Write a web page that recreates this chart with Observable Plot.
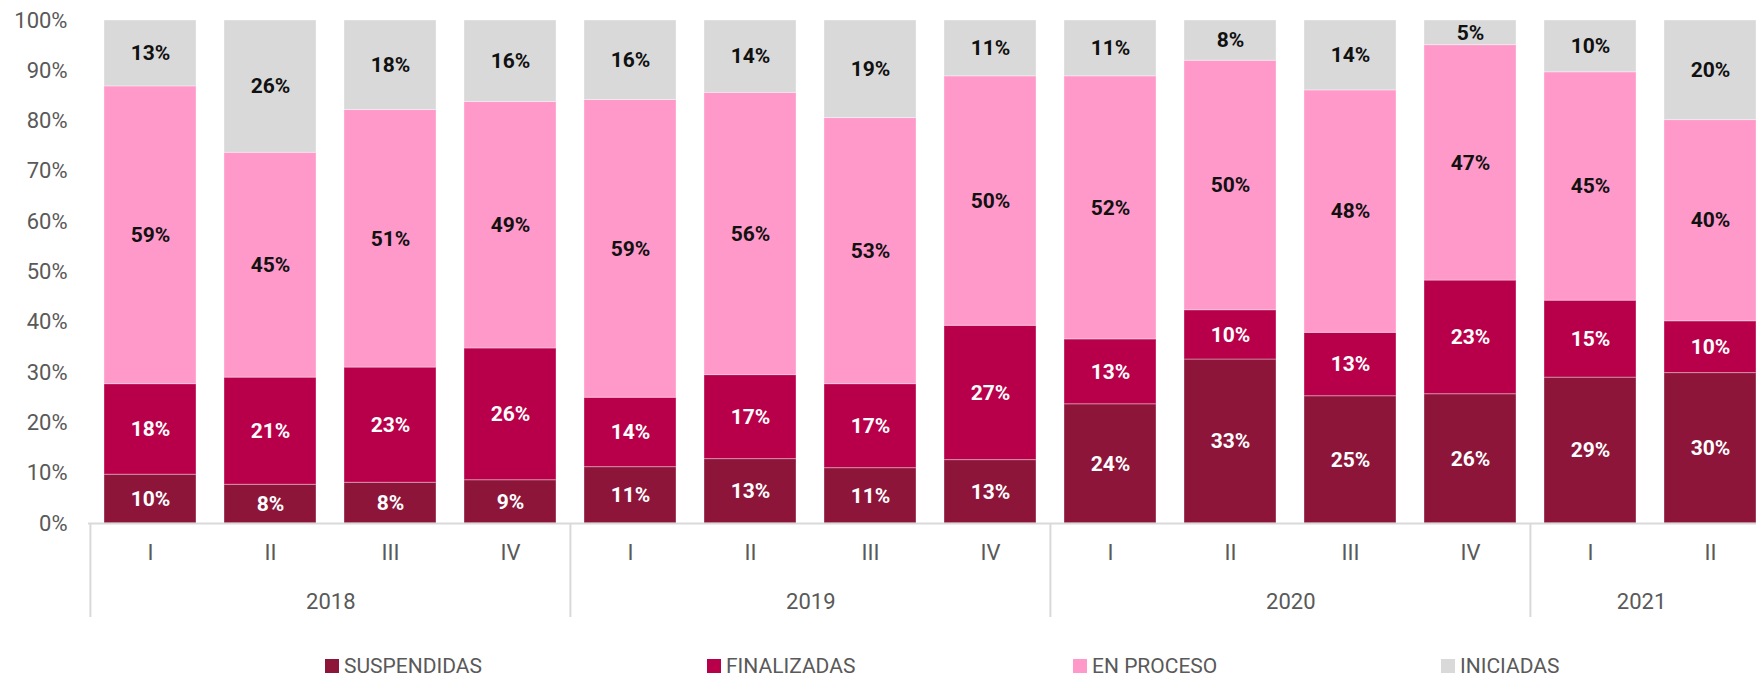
<!DOCTYPE html>
<html><head><meta charset="utf-8">
<script src="https://cdn.jsdelivr.net/npm/d3@7"></script>
<script src="https://cdn.jsdelivr.net/npm/@observablehq/plot@0.6"></script>
<style>
body{margin:0;background:#fff;overflow:hidden}
#chart{position:relative;width:1756px;height:677px;overflow:hidden;font-family:Roboto,sans-serif;background:#fff}
#legend{position:absolute;left:0;top:645px;width:1756px;height:32px}
.item{position:absolute;top:10px;height:22px;line-height:22px;display:flex;align-items:center;font-size:21px;color:#595959;white-space:nowrap}
.sw{width:14px;height:14px;margin-right:5px}
</style></head><body><div id="chart"><div id="plot"></div><div id="legend"></div></div>
<script>
// ---- data ----
const periodYears = ["2018","2018","2018","2018","2019","2019","2019","2019","2020","2020","2020","2020","2021","2021"];
const periodQuarters = ["I","II","III","IV","I","II","III","IV","I","II","III","IV","I","II"];
const yearNames = ["2018","2019","2020","2021"];
const seriesNames = ["SUSPENDIDAS","FINALIZADAS","EN PROCESO","INICIADAS"];
const suspendidas = [9.7, 7.7, 8.1, 8.6, 11.2, 12.8, 11.0, 12.6, 23.7, 32.6, 25.3, 25.7, 29.0, 29.9];
const finalizadas = [18.0, 21.3, 22.9, 26.2, 13.8, 16.7, 16.7, 26.7, 12.9, 9.8, 12.6, 22.6, 15.3, 10.3];
const enProceso   = [59.2, 44.7, 51.2, 49.0, 59.2, 56.1, 52.9, 49.6, 52.3, 49.6, 48.2, 46.8, 45.4, 40.0];
const iniciadas   = [13.1, 26.3, 17.8, 16.2, 15.8, 14.4, 19.4, 11.1, 11.1, 8.0, 13.9, 4.9, 10.3, 19.8];
const yTicks = [0,10,20,30,40,50,60,70,80,90,100];

// ---- styles ----
const seriesColors = ["#8C1539", "#B8004A", "#FF99CA", "#D9D9D9"];
const labelColors = ["#ffffff", "#ffffff", "#111111", "#111111"];
const legendLeft = [325, 707, 1073, 1441];

const periods = periodYears.map((y, i) => y + "-" + periodQuarters[i]);
const seriesValues = [suspendidas, finalizadas, enProceso, iniciadas];
const rows = [];
seriesNames.forEach((s, si) => periods.forEach((p, i) => rows.push({period: p, series: s, value: seriesValues[si][i]})));
const colorOf = Object.fromEntries(seriesNames.map((s, i) => [s, seriesColors[i]]));
const labelColorOf = Object.fromEntries(seriesNames.map((s, i) => [s, labelColors[i]]));

const W = 1756, H = 645;
const xRange = [88, 1771];
const step = (xRange[1] - xRange[0]) / periods.length;

const yearMarks = yearNames.map(yr => {
  const idx = periods.map((p, i) => i).filter(i => periodYears[i] === yr);
  const n = idx.length;
  const dx = n === 4 ? step * 1.5 : (step * (n - 1)) / 2 - 9;
  return Plot.text([yr], {x: () => periods[idx[0]], text: d => d, frameAnchor: "bottom", dy: 78, dx, lineAnchor: "middle", fill: "#595959", fontSize: 22});
});
const yearFirst = yearNames.map(yr => periods[periodYears.indexOf(yr)]);

const chart = Plot.plot({
  width: W, height: H,
  marginLeft: 88, marginRight: 0, marginTop: 20, marginBottom: H - 523,
  style: {fontFamily: "Roboto, sans-serif", fontSize: "22px", color: "#595959", background: "white"},
  x: {domain: periods, range: xRange, paddingInner: 0.235, paddingOuter: 0.1175, axis: null},
  y: {domain: [0, 100], ticks: yTicks, tickFormat: d => d + "%", tickSize: 0, tickPadding: 21, label: null},
  color: {type: "identity"},
  marks: [
    Plot.barY(rows, {x: "period", y: "value", z: "series", fill: d => colorOf[d.series], stroke: "#ffffff", strokeOpacity: 0.35, strokeWidth: 1}),
    Plot.text(rows, Plot.stackY({x: "period", y: "value", z: "series", text: d => Math.round(d.value) + "%", fill: d => labelColorOf[d.series], fontWeight: "bold", fontSize: 21})),
    Plot.ruleY([0], {stroke: "#d9d9d9", strokeWidth: 2}),
    Plot.ruleX(yearFirst, {x: d => d, y1: 0, y2: 0, insetBottom: -94, dx: -step / 2, stroke: "#d9d9d9", strokeWidth: 2}),
    Plot.text(periods, {x: d => d, text: (d, i) => periodQuarters[i], frameAnchor: "bottom", dy: 29, lineAnchor: "middle", fill: "#595959", fontSize: 22}),
    ...yearMarks
  ]
});
document.getElementById("plot").appendChild(chart);

const legend = document.getElementById("legend");
seriesNames.forEach((s, i) => {
  const it = document.createElement("div");
  it.className = "item";
  it.style.left = legendLeft[i] + "px";
  const sw = document.createElement("span");
  sw.className = "sw";
  sw.style.background = seriesColors[i];
  const t = document.createElement("span");
  t.textContent = s;
  it.appendChild(sw); it.appendChild(t);
  legend.appendChild(it);
});
</script>
</body></html>
